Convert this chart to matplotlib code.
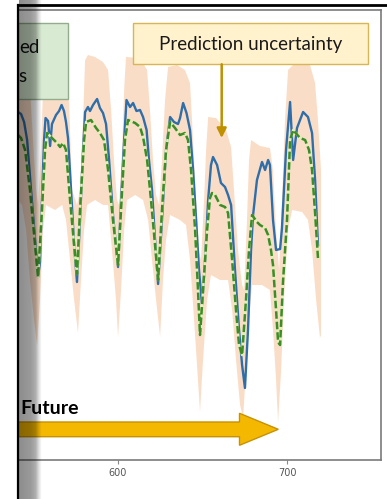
import matplotlib
matplotlib.use('Agg')
from matplotlib import pyplot as plt
from matplotlib.patches import Rectangle, Polygon
import numpy as np

# hourly load (y in arbitrary units)
actual_x = [540.8, 542.6, 544.4, 546.2, 548.5, 550.9, 552.7, 553.8, 555.0, 556.2,
            557.1, 558.6, 559.8, 560.9, 563.3, 565.1, 566.6, 568.0, 569.2, 570.4,
            572.2, 574.0, 575.7, 577.5, 579.3, 580.5, 582.2, 583.4, 585.2, 587.6,
            589.3, 591.1, 592.9, 594.7, 597.0, 600.0, 601.8, 603.6, 605.0, 607.1,
            608.9, 610.9, 613.0, 614.8, 616.9, 618.3, 620.1, 621.9, 623.7, 626.0,
            628.4, 630.8, 633.1, 635.5, 636.7, 638.5, 640.5, 642.6, 644.4, 646.2,
            647.9, 649.7, 651.5, 653.3, 655.0, 656.2, 658.6, 660.9, 663.3, 665.1,
            666.9, 669.2, 671.6, 673.4, 675.1, 676.9, 678.7, 679.9, 682.2, 685.2,
            687.0, 688.8, 689.9, 691.7, 693.5, 695.9, 697.0, 699.4, 701.8, 703.6,
            705.9, 709.5, 712.4, 714.8, 716.6, 718.3]
actual_y = [348, 346, 338, 320, 270, 220, 183, 198, 260, 320,
            342, 339, 314, 336, 345, 349, 355, 349, 338, 322,
            270, 215, 178, 240, 310, 348, 353, 349, 355, 361,
            352, 347, 336, 300, 245, 193, 260, 320, 360, 353,
            357, 349, 350, 343, 330, 300, 270, 220, 176, 240,
            310, 343, 338, 336, 342, 357, 347, 330, 290, 240,
            190, 155, 200, 260, 295, 303, 295, 277, 273, 265,
            255, 190, 130, 95, 72, 130, 210, 245, 280, 298,
            290, 300, 295, 240, 210, 211, 232, 310, 358, 300,
            332, 348, 343, 327, 280, 215]

pred_x = [540.8, 542.6, 545.0, 547.9, 550.9, 552.7, 555.0, 556.8, 558.0, 560.9,
          563.9, 565.7, 567.5, 569.2, 571.6, 574.0, 575.7, 577.5, 579.9, 581.1,
          584.0, 587.0, 589.3, 591.7, 594.1, 597.0, 600.0, 602.4, 604.1, 605.9,
          610.1, 613.0, 614.8, 617.2, 619.5, 621.9, 623.7, 626.0, 628.4, 630.8,
          633.7, 636.7, 639.6, 641.4, 643.2, 645.6, 647.3, 648.5, 650.3, 652.7,
          654.4, 655.6, 657.4, 660.4, 663.3, 665.1, 667.5, 669.8, 671.6, 673.4,
          675.7, 677.5, 679.3, 682.2, 684.0, 687.0, 688.8, 690.5, 691.7, 693.5,
          694.7, 695.9, 697.6, 700.0, 701.8, 703.6, 707.7, 710.7, 713.0, 714.8,
          716.6, 718.3]
pred_y = [325, 322, 310, 270, 215, 183, 250, 310, 327, 322,
          317, 313, 317, 310, 260, 215, 186, 250, 320, 338,
          340, 332, 327, 320, 290, 240, 195, 270, 320, 340,
          337, 333, 323, 300, 260, 215, 180, 250, 310, 338,
          332, 325, 327, 320, 290, 230, 170, 125, 170, 230,
          262, 267, 265, 255, 253, 247, 200, 150, 115, 105,
          160, 210, 245, 238, 235, 232, 225, 210, 195, 150,
          118, 115, 178, 240, 320, 330, 322, 320, 310, 290,
          247, 202]

upper_x = [540.8, 545.6, 547.9, 549.7, 551.5, 552.7, 554.4, 555.6, 556.8, 565.7,
           569.2, 571.0, 572.8, 575.7, 577.5, 579.3, 580.5, 582.2, 586.4, 591.1,
           594.1, 595.9, 597.6, 599.4, 600.6, 602.4, 603.6, 604.7, 613.0, 617.2,
           618.9, 620.7, 622.5, 624.3, 626.0, 627.8, 629.6, 634.9, 639.6, 642.6,
           644.4, 646.2, 647.9, 649.1, 650.9, 652.1, 653.3, 658.0, 663.9, 666.9,
           668.6, 671.0, 673.4, 674.6, 676.3, 677.5, 678.7, 684.0, 689.9, 691.7,
           693.5, 695.3, 697.0, 698.8, 700.6, 704.7, 713.6, 716.6, 718.3, 720.1]
upper_y = [400, 398, 370, 320, 270, 255, 310, 370, 400, 402,
           395, 360, 270, 255, 270, 340, 400, 405, 403, 398,
           390, 350, 300, 260, 255, 310, 370, 403, 402, 390,
           350, 300, 265, 255, 300, 360, 393, 395, 390, 377,
           320, 260, 210, 200, 260, 310, 343, 342, 330, 313,
           270, 210, 175, 170, 240, 300, 320, 314, 312, 290,
           230, 190, 260, 340, 390, 397, 395, 377, 340, 290]

lower_x = [540.8, 543.2, 545.6, 547.9, 550.3, 552.1, 553.8, 555.6, 557.4, 562.7,
           566.9, 569.2, 571.6, 574.0, 576.3, 578.1, 579.9, 581.7, 586.4, 591.1,
           594.1, 596.4, 598.8, 600.0, 601.8, 603.6, 605.3, 610.1, 614.8, 617.8,
           620.1, 622.5, 624.9, 626.6, 628.4, 630.8, 636.7, 640.2, 642.6, 645.0,
           647.3, 648.5, 650.3, 652.7, 655.0, 660.4, 665.1, 667.5, 669.8, 672.2,
           674.0, 675.7, 677.5, 679.3, 685.2, 689.9, 691.7, 693.5, 694.7, 696.5,
           698.2, 700.6, 703.0, 708.9, 712.4, 714.8, 717.2, 719.5, 720.1]
lower_y = [260, 255, 230, 180, 140, 115, 160, 230, 255, 250,
           255, 240, 200, 160, 127, 180, 230, 255, 260, 255,
           255, 210, 160, 123, 170, 230, 260, 265, 260, 240,
           200, 160, 123, 180, 220, 245, 240, 235, 200, 140,
           80, 48, 100, 160, 185, 180, 180, 150, 100, 55,
           42, 90, 140, 175, 175, 170, 130, 80, 38, 90,
           160, 230, 250, 248, 240, 210, 160, 122, 125]

tick_vals = [600, 700]

W, H = 387, 499
fig = plt.figure(figsize=(W / 100, H / 100), dpi=100)
fig.patch.set_facecolor('white')

ax = fig.add_axes([18 / W, 1 - 460 / H, (381 - 18) / W, 450 / H])
band_x = np.concatenate([upper_x, lower_x[::-1]])
band_y = np.concatenate([upper_y, lower_y[::-1]])
ax.fill(band_x, band_y, color='#f7c7a2', alpha=0.6, lw=0, zorder=1)
ax.plot(actual_x, actual_y, color='#2f6ea8', lw=1.7, zorder=2)
ax.plot(pred_x, pred_y, color='#e4efb4', lw=1.8, zorder=3)
ax.plot(pred_x, pred_y, color='#3c8c28', lw=1.8, ls=(0, (3, 1.2)), zorder=4)
ax.set_xlim(540.8, 755.6)
ax.set_ylim(0, 450)
ax.set_yticks([])
ax.set_xticks(tick_vals)
ax.tick_params(axis='x', length=3, width=0.8, color='#888888', labelsize=7,
               labelcolor='#555555', pad=3)
ax.spines['left'].set_visible(False)
for s in ['top', 'right', 'bottom']:
    ax.spines[s].set_color('#7a7a7a')
    ax.spines[s].set_linewidth(1.2)

# slide overlay in pixel coordinates
ov = fig.add_axes([0, 0, 1, 1], zorder=5)
ov.set_xlim(0, W)
ov.set_ylim(H, 0)
ov.axis('off')
ov.patch.set_alpha(0)

ov.add_patch(Rectangle((18.3, 22.7), 50, 76.3, fc='#d9ead3', ec='#93ad8c', lw=1))
ov.text(19.5, 53, 'ed', ha='left', va='baseline', fontsize=13.5, family='Lato',
        color='#111111')
ov.text(18.5, 82, 's', ha='left', va='baseline', fontsize=13.5, family='Lato',
        color='#111111')

ov.add_patch(Rectangle((132.7, 22.7), 235.3, 41.6, fc='#fff2cc', ec='#d6b656', lw=1))
ov.text(250.3, 44, 'Prediction uncertainty', ha='center', va='center',
        fontsize=13.5, family='Lato', color='#1a1a1a')
ov.annotate('', xy=(221.7, 138), xytext=(221.7, 64.3),
            arrowprops=dict(arrowstyle='-|>', color='#bf9000', lw=1.8,
                            mutation_scale=14, shrinkA=0, shrinkB=0))

ov.text(20, 414, 'Future', fontsize=14, weight='bold', family='Lato',
        va='baseline', color='black')
ov.add_patch(Polygon([(18, 422), (239.5, 422), (239.5, 413.3), (278.3, 429.3),
                      (239.5, 445.3), (239.5, 436.7), (18, 436.7)],
                     closed=True, fc='#f5b800', ec='#c79100', lw=1))

# grey shadow strip at left border
xs = np.linspace(18.5, 41, 60)
alpha = np.interp(xs, [18.5, 30, 35, 38, 41], [0.45, 0.4, 0.32, 0.13, 0.0])
img = np.zeros((1, len(xs), 4))
img[0, :, 3] = alpha
ov.imshow(img, extent=(18.5, 41, H, 0), aspect='auto', interpolation='bilinear', zorder=6)
ov.set_xlim(0, W)
ov.set_ylim(H, 0)

ov.plot([17.5, 17.5], [5, H], color='black', lw=1.6, zorder=7)
ov.plot([17.5, W], [5, 5], color='black', lw=2, zorder=7)

fig.savefig('out.png', dpi=100)
